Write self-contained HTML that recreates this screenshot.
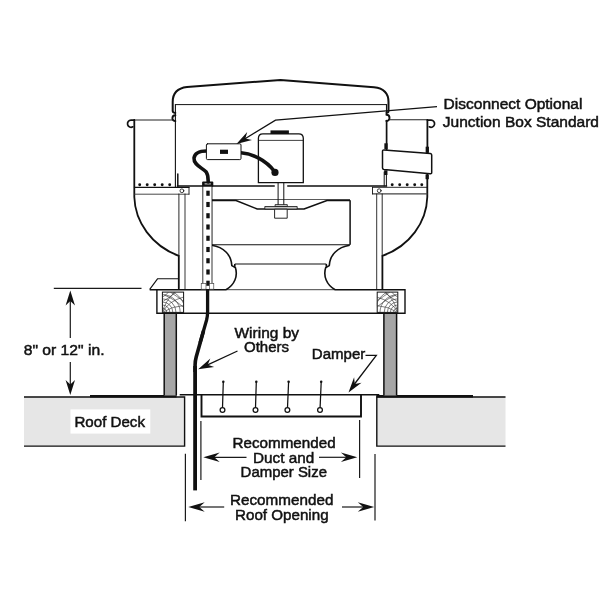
<!DOCTYPE html>
<html><head><meta charset="utf-8">
<style>
html,body{margin:0;padding:0;background:#fff;}
body{width:600px;height:600px;overflow:hidden;}
svg{display:block;filter:grayscale(1);}
text{font-family:"Liberation Sans",sans-serif;font-size:15.4px;fill:#111;stroke:#111;stroke-width:0.5px;}
</style></head><body>
<svg width="600" height="600" viewBox="0 0 600 600">
<defs>
<clipPath id="gclip"><rect x="0" y="0" width="21" height="20.3"/></clipPath>
<g id="grain" fill="none" stroke="#3a3a3a" stroke-width="0.65" clip-path="url(#gclip)">
<path d="M4.3 20.3 A4.3 4.3 0 0 0 0 16.0"/><path d="M7.4 20.3 A7.4 7.4 0 0 0 0 12.9"/><path d="M10.4 20.3 A10.4 10.4 0 0 0 0 9.9"/><path d="M13.6 20.3 A13.6 13.6 0 0 0 0 6.7"/><path d="M17.8 20.3 A17.8 17.8 0 0 0 0 2.5"/>
<path d="M23 20.3 A23 23 0 0 0 0 -2.7"/>
<path d="M0 20.3 Q6 9 21 5"/><path d="M0 20.3 Q3 8 13 0"/><path d="M0 20.3 Q10 14 21 13.5"/>
<path d="M1 9 Q8 5 13 0"/><path d="M2 3 Q10 6 21 15"/><path d="M8 0 Q14 4 21 9"/><path d="M0 5 Q4 3 6 0"/>
</g>
</defs>
<rect width="600" height="600" fill="#fff"/>

<!-- ROOF DECKS -->
<g id="decks">
<rect x="24" y="396.6" width="160.6" height="49.6" fill="#e5e6e7"/>
<path d="M24 397 H184.6 V446.1 H24" fill="none" stroke="#111" stroke-width="1.4"/>
<rect x="70.5" y="409.4" width="79.8" height="24.2" fill="#fff"/>
<rect x="376.8" y="396.6" width="128.7" height="49.6" fill="#e5e6e7"/>
<path d="M505.5 397 H376.8 V446.1 H505.5" fill="none" stroke="#111" stroke-width="1.4"/>
<path d="M90 396.2 H176.5" stroke="#111" stroke-width="2.4"/>
<path d="M376.3 396.2 H473" stroke="#111" stroke-width="2.4"/>
</g>

<!-- GREY POSTS -->
<g id="posts">
<rect x="164" y="313.5" width="12.3" height="82" fill="#a6a6a6"/>
<path d="M164.2 313.5 V395.5 M176.3 313.5 V395.5" stroke="#111" stroke-width="1.5"/>
<rect x="383.7" y="313.5" width="13" height="82" fill="#a6a6a6"/>
<path d="M383.9 313.5 V395.5 M396.6 313.5 V395.5" stroke="#111" stroke-width="1.5"/>
</g>

<!-- CURB CAP -->
<g id="curb" fill="none" stroke="#111" stroke-width="1.3">
<path d="M226 289.7 H335" stroke-width="0.8"/><path d="M226 289.7 H149.7 M156.9 289.7 V313.2 H405 V289.7 H335" stroke-width="1.4"/>
<path d="M149.7 289.4 L157.5 278.8 H178.6" stroke-width="1.1"/>
<rect x="162.4" y="292.1" width="21.2" height="20.3" fill="#fff" stroke-width="1"/>
<rect x="377.2" y="292.1" width="20.6" height="20.3" fill="#fff" stroke-width="1"/>
</g>
<use href="#grain" x="162.4" y="292.1"/>
<use href="#grain" transform="translate(397.8 292.1) scale(-1 1)"/>

<!-- DAMPER -->
<g id="damper" fill="none" stroke="#111">
<path d="M179.7 394.7 H379.3" stroke-width="1.6"/>
<path d="M201.5 394.7 V416.5 H361 V394.7" stroke-width="1.9"/>
<g stroke-width="1.25">
<path d="M223.3 382 L222.5 407.6"/><circle cx="222.5" cy="410" r="2.4"/>
<path d="M256.3 382 L255.5 407.6"/><circle cx="255.5" cy="410" r="2.4"/>
<path d="M288.6 382 L287.5 407.6"/><circle cx="287.4" cy="410" r="2.4"/>
<path d="M321.2 382 L320.1 407.6"/><circle cx="320" cy="410" r="2.4"/>
</g>
<g fill="#111" stroke="none"><circle cx="223.3" cy="381.8" r="1.25"/><circle cx="256.3" cy="381.8" r="1.25"/><circle cx="288.6" cy="381.8" r="1.25"/><circle cx="321.2" cy="381.8" r="1.25"/></g>
</g>

<!-- DIMENSION LINES -->
<g id="dims" fill="none" stroke="#1a1a1a" stroke-width="1.2">
<path d="M185.4 453.7 V521.3"/><path d="M200.9 421 V480"/>
<path d="M359.6 420 V478"/><path d="M375 454 V520.5"/>
<path d="M212 457.3 H246.5"/><path d="M319 457.3 H348"/>
<path d="M197 507 H224.2"/><path d="M342 507 H365"/>
<path d="M53.8 288.4 H141.5"/>
<path d="M70.3 300 V338"/><path d="M70.3 362 V386"/>
</g>
<g id="arrowheads" fill="#111">
<path d="M203.3 457.3 L219.7 462.1 L214.3 457.3 L219.7 452.5 Z"/>
<path d="M357.3 457.3 L340.9 452.5 L346.3 457.3 L340.9 462.1 Z"/>
<path d="M188.3 507.0 L204.7 511.8 L199.3 507.0 L204.7 502.2 Z"/>
<path d="M374.2 507.0 L357.8 502.2 L363.2 507.0 L357.8 511.8 Z"/>
<path d="M70.3 290.4 L65.6 305.4 L70.3 300.9 L75.0 305.4 Z"/>
<path d="M70.3 395.0 L75.0 380.0 L70.3 384.5 L65.6 380.0 Z"/>
</g>

<!-- FAN BODY -->
<g id="fan" fill="none" stroke="#111" stroke-width="1.3" stroke-linejoin="round" stroke-linecap="round">
<!-- hood -->
<path d="M175.3 112.9 Q172.8 112.7 172.7 111 V102 C172.7 92 179 88 187 87.1 L280.5 80 L374 87.2 C382 88 388.5 92 388.5 102 V111 Q388.5 112.7 386.4 112.9" stroke-width="2"/>
<path d="M175.4 115.2 A3 2.95 0 0 0 175.4 121.1 M386.4 114.8 A3.1 3.1 0 0 1 386.4 121" stroke-width="1.9"/>
<path d="M175.3 104.6 H386.4" stroke-width="1"/>
<path d="M175.4 104.7 V187" stroke-width="1.1"/>
<path d="M177.8 174 V186.3" stroke-width="1.5"/>
<!-- left wind band -->
<path d="M172.7 120 H134.3" stroke-width="1.1" stroke="#222"/><path d="M134.3 120.1 H131 A3.5 3.6 0 1 0 132.8 126.8" stroke-width="1.7"/>
<path d="M134.3 120 V197 C135 222 152 246 178.8 255.8 V288.5" stroke-width="1.8"/>
<path d="M134.4 187.4 H189" stroke-width="1.1"/>
<path d="M134.4 194.2 H189" stroke-width="0.9" stroke="#333"/>
<!-- right wind band -->
<path d="M389 119.8 H427.4" stroke-width="1.1" stroke="#222"/><path d="M427.4 120.1 H431 A3.5 3.6 0 1 1 429.3 126.8" stroke-width="1.7"/>
<path d="M386.5 104.6 V114" stroke-width="1.1"/><path d="M386.6 120.5 V150" stroke-width="1.7"/>
<path d="M427.4 120 V154" stroke-width="1.8"/>
<path d="M427.3 173.5 V197 C426.6 222 410 246 382.4 255.8 V288.8" stroke-width="1.8"/>
<path d="M384.2 172 V186 M386.4 172 V186" stroke-width="1" stroke="#111"/>
<path d="M372.5 187.3 H427" stroke-width="0.9"/>
<path d="M372.5 193.9 H427" stroke-width="1.1" stroke="#444"/>
<!-- plate -->
<path d="M177.5 186 H274.2 M287.8 186 H386.5" stroke-width="1.6"/>
<!-- brackets -->
<path d="M189 187.4 V194.2" stroke-width="0.9"/>
<circle cx="181.9" cy="190.8" r="1.9" stroke-width="0.8"/>
<path d="M372.5 187.3 V193.9" stroke-width="0.9"/>
<circle cx="379.2" cy="190.7" r="1.9" stroke-width="0.8"/>
<!-- posts thin -->
<path d="M178.9 194 V256" stroke-width="0.9"/>
<path d="M185 194 V289" stroke-width="0.85"/>
<path d="M376.7 194 V289" stroke-width="0.85"/>
<path d="M382.2 194 V256" stroke-width="0.9"/>
</g>

<!-- strap -->
<g id="strap">
<path d="M384 149.9 L430.3 153.5 Q431.7 153.7 431.7 155.1 V172.4 Q431.7 174 430.2 173.7 L384 169.5 Q382.5 169.3 382.5 167.9 V151.3 Q382.5 149.8 384 149.9 Z" fill="#fff" stroke="#111" stroke-width="1.5"/>
<g stroke="#111" stroke-width="3.3" fill="none">
<path d="M386 143.3 V149.2"/><path d="M427.3 146.7 V152.8"/>
<path d="M385.8 170.3 V175"/><path d="M427.2 174.5 V179.2"/>
</g>
</g>
<!-- dots -->
<g id="dots" fill="#111">
<circle cx="139.7" cy="184.8" r="1.45"/><circle cx="147.2" cy="184.8" r="1.45"/><circle cx="154.7" cy="184.8" r="1.45"/><circle cx="162.2" cy="184.8" r="1.45"/><circle cx="169.7" cy="184.8" r="1.45"/>
<circle cx="392.2" cy="184.8" r="1.45"/><circle cx="399.7" cy="184.8" r="1.45"/><circle cx="407.2" cy="184.8" r="1.45"/><circle cx="414.7" cy="184.8" r="1.45"/><circle cx="421.8" cy="184.8" r="1.45"/>
</g>

<!-- WHEEL -->
<g id="wheel" fill="none" stroke="#111" stroke-width="1.3" stroke-linejoin="round">
<path d="M211.3 199.5 H350" stroke-width="0.7"/>
<path d="M211.3 200.5 H236 L257.3 209 H304 L327 200.5 H350.1" stroke-width="1.4"/>
<path d="M211.4 200.3 V244.8 M350.1 200.3 V244.8" stroke-width="1.5"/>
<path d="M211.3 244.7 H350.1" stroke-width="1.1"/>
<path d="M234.8 264 H326.3" stroke-width="1.1"/>
<path d="M211.8 245.2 C224 247 231.5 255.5 231.8 265.6 L234.8 267.3 V264 M235.3 267.3 C238.2 276 234.5 285 226 289.7" stroke-width="1.6"/>
<path d="M349.7 245.2 C337.5 247 329.6 255.5 329.3 265.6 L326.3 267.3 V264 M325.8 267.3 C322.9 276 326.6 285 335.1 289.7" stroke-width="1.6"/>
<!-- hub -->
<path d="M278.1 182.6 V205 M283.8 182.6 V205" stroke-width="1"/>
<rect x="275.1" y="204.6" width="12.2" height="2" fill="#d0d0d0" stroke-width="0.8"/>
<rect x="264.8" y="206.5" width="32.4" height="2.6" fill="#c4c4c4" stroke-width="0.8"/>
<rect x="274.6" y="209.2" width="12.6" height="9" fill="#fff" stroke-width="0.9"/>
</g>

<!-- STRUT -->
<g id="strut">
<rect x="202.8" y="186" width="9.2" height="103" fill="#fff"/>
<path d="M202.8 186 V289 M212 186 V289" stroke="#111" stroke-width="0.85" fill="none"/>
<g fill="#111">
<rect x="206.3" y="190.70" width="3.4" height="5.1"/>
<rect x="206.3" y="201.95" width="3.4" height="5.1"/>
<rect x="206.3" y="213.20" width="3.4" height="5.1"/>
<rect x="206.3" y="224.45" width="3.4" height="5.1"/>
<rect x="206.3" y="235.70" width="3.4" height="5.1"/>
<rect x="206.3" y="246.95" width="3.4" height="5.1"/>
<rect x="206.3" y="258.20" width="3.4" height="5.1"/>
<rect x="206.3" y="269.45" width="3.4" height="5.1"/>
<rect x="206.3" y="280.70" width="3.4" height="5.1"/>
</g>
<rect x="201.2" y="283.4" width="4.8" height="5.8" fill="#fff" stroke="#333" stroke-width="0.6"/>
<rect x="209.4" y="283.4" width="4.4" height="5.8" fill="#fff" stroke="#333" stroke-width="0.6"/>
<rect x="202.1" y="181.5" width="11.2" height="5.2" rx="1" fill="#111"/>
<path d="M204.6 183.9 H210.8" stroke="#fff" stroke-width="0.9"/>
</g>

<!-- MOTOR -->
<g id="motor" fill="none" stroke="#111">
<path d="M258.4 182.6 V138.3 Q258.4 133.8 262.9 133.8 H298.8 Q303.3 133.8 303.3 138.3 V182.6 Z" fill="#fff" stroke-width="1.3"/>
<path d="M258.4 140.4 H303.3" stroke-width="0.8"/>
<rect x="270.5" y="130.4" width="18.4" height="3.6" fill="#111" stroke="none"/>
</g>

<!-- JUNCTION BOX + CABLES -->
<g id="jbox" fill="none" stroke="#111" stroke-linecap="round">
<path d="M206.6 151 C200 151 195 152 194 158 C193.5 165 202 167.5 206.2 172 C208.3 175 208 178 208.2 182" stroke-width="3.6"/>
<path d="M241 152.8 C252 153.6 266 160 274.5 171.5" stroke-width="3.6"/>
<circle cx="275" cy="172.4" r="3.6" fill="#111" stroke="none"/>
<rect x="206.4" y="143.8" width="34.6" height="15.8" rx="1.2" fill="#fff" stroke-width="1"/>
<rect x="220" y="149.7" width="8" height="4.2" fill="#111" stroke="none"/>
</g>

<!-- WIRE -->
<g fill="none" stroke="#111" stroke-linejoin="round">
<path d="M207.6 289.5 V312 Q207.6 316 206.6 320 L200 343" stroke-width="3.3"/>
<path d="M203.5 331 L196.2 357 Q195.1 361 195.1 365 V372" stroke-width="3.6"/>
<path d="M195.1 366 V490.4" stroke-width="3.8"/>
</g>

<!-- LEADERS -->
<g id="leaders" fill="none" stroke="#111" stroke-width="1.3">
<path d="M437 106.6 L275.5 120.2 L243 140"/>
<path d="M237.5 351 L206 365.6"/>
<path d="M365.5 355.3 H376.3 L353 386"/>
</g>
<g fill="#111">
<path d="M236.4 144.0 L252.0 139.9 L245.4 138.5 L247.2 132.0 Z"/>
<path d="M198.2 369.2 L214.2 366.9 L207.7 364.8 L210.3 358.5 Z"/>
<path d="M348.5 392.5 L361.5 382.8 L354.8 384.1 L354.1 377.3 Z"/>
</g>

<!-- TEXT -->
<g id="labels">
<text x="443.6" y="109" textLength="138.8" lengthAdjust="spacingAndGlyphs">Disconnect Optional</text>
<text x="442.8" y="127" textLength="156.2" lengthAdjust="spacingAndGlyphs">Junction Box Standard</text>
<text x="23.7" y="355" textLength="80.8" lengthAdjust="spacingAndGlyphs">8" or 12" in.</text>
<text x="74.4" y="427.4" textLength="70.6" lengthAdjust="spacingAndGlyphs">Roof Deck</text>
<text x="234.5" y="338" textLength="64.5" lengthAdjust="spacingAndGlyphs">Wiring by</text>
<text x="244" y="352" textLength="45" lengthAdjust="spacingAndGlyphs">Others</text>
<text x="311.8" y="358.8" textLength="53.5" lengthAdjust="spacingAndGlyphs">Damper</text>
<text x="232.6" y="447.7" textLength="103" lengthAdjust="spacingAndGlyphs">Recommended</text>
<text x="253" y="462.5" textLength="61.2" lengthAdjust="spacingAndGlyphs">Duct and</text>
<text x="240.6" y="477.4" textLength="86.4" lengthAdjust="spacingAndGlyphs">Damper Size</text>
<text x="230" y="505" textLength="103.4" lengthAdjust="spacingAndGlyphs">Recommended</text>
<text x="235" y="519.6" textLength="93.6" lengthAdjust="spacingAndGlyphs">Roof Opening</text>
</g>
</svg>
</body></html>
